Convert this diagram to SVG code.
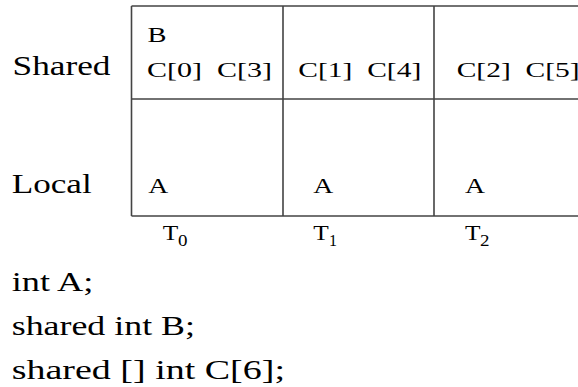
<svg xmlns="http://www.w3.org/2000/svg" width="578" height="387" viewBox="0 0 578 387">
<style>
text{fill:#000;white-space:pre}
.big{font-size:27px}
.cell{font-size:21px}
.t{font-size:22px}
.sub{font-size:16px}
.ln{stroke:#444;stroke-width:1.6;fill:none}
</style>
<rect width="578" height="387" fill="#fff"/>
<g id="table">
<path class="ln" d="M131.5 6H578M131.5 99H578M131.5 216H578M131.5 6V216M283 6V216M434 6V216"/>
</g>
<g font-family="Liberation Serif, Times New Roman, serif">
<g id="labels">
<text class="big" x="12.5" y="75" textLength="98" lengthAdjust="spacingAndGlyphs">Shared</text>
<text class="big" x="11.7" y="193" textLength="80" lengthAdjust="spacingAndGlyphs">Local</text>
</g>
<g id="T0">
<text class="cell" x="147.5" y="42" textLength="19" lengthAdjust="spacingAndGlyphs">B</text>
<text class="cell" x="147" y="77" textLength="125" lengthAdjust="spacingAndGlyphs" xml:space="preserve">C[0]  C[3]</text>
<text class="cell" x="148.3" y="193" textLength="20" lengthAdjust="spacingAndGlyphs">A</text>
<text class="t" x="162.7" y="240" textLength="15.5" lengthAdjust="spacingAndGlyphs">T</text>
<text class="sub" x="178" y="246" textLength="9.5" lengthAdjust="spacingAndGlyphs">0</text>
</g>
<g id="T1">
<text class="cell" x="298.3" y="77" textLength="123" lengthAdjust="spacingAndGlyphs" xml:space="preserve">C[1]  C[4]</text>
<text class="cell" x="313.3" y="193" textLength="20" lengthAdjust="spacingAndGlyphs">A</text>
<text class="t" x="313.3" y="240" textLength="15.5" lengthAdjust="spacingAndGlyphs">T</text>
<text class="sub" x="329" y="246" textLength="8" lengthAdjust="spacingAndGlyphs">1</text>
</g>
<g id="T2">
<text class="cell" x="456.7" y="77" textLength="123" lengthAdjust="spacingAndGlyphs" xml:space="preserve">C[2]  C[5]</text>
<text class="cell" x="465" y="193" textLength="20" lengthAdjust="spacingAndGlyphs">A</text>
<text class="t" x="465" y="240" textLength="15.5" lengthAdjust="spacingAndGlyphs">T</text>
<text class="sub" x="480" y="246" textLength="9.5" lengthAdjust="spacingAndGlyphs">2</text>
</g>
<g id="code">
<text class="big" x="11.7" y="291" textLength="81.6" lengthAdjust="spacingAndGlyphs">int A;</text>
<text class="big" x="11.7" y="335" textLength="183.3" lengthAdjust="spacingAndGlyphs">shared int B;</text>
<text class="big" x="11.7" y="379" textLength="273.3" lengthAdjust="spacingAndGlyphs">shared [] int C[6];</text>
</g>
</g>
</svg>
